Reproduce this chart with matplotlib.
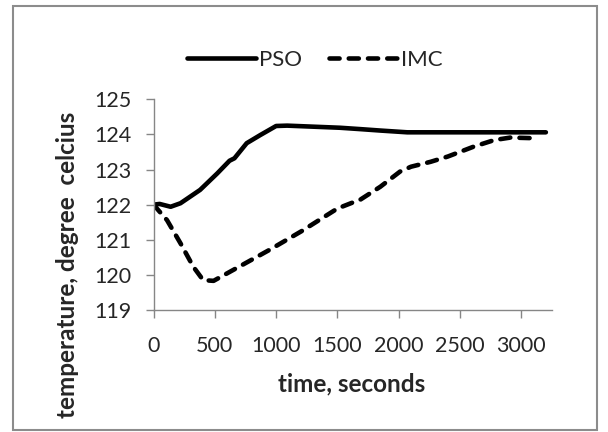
import matplotlib
matplotlib.use("Agg")
import matplotlib.pyplot as plt
from matplotlib.patches import Rectangle

# PSO and IMC temperature response (time in seconds, temperature in deg C)
pso_time = [0, 50, 140, 220, 380, 520, 620, 660, 760, 870, 1000, 1090,
            1520, 1690, 1850, 2070, 3200]
pso_temp = [122.0, 122.02, 121.94, 122.04, 122.42, 122.89, 123.25, 123.32,
            123.75, 123.98, 124.24, 124.25, 124.19, 124.15, 124.11, 124.06, 124.06]

imc_time = [0, 110, 220, 325, 405, 490, 650, 950, 1210, 1500, 1690, 1850,
            2010, 2100, 2260, 2400, 2610, 2780, 2910, 3130]
imc_temp = [122.0, 121.56, 120.9, 120.23, 119.85, 119.83, 120.14, 120.72,
            121.25, 121.89, 122.15, 122.51, 122.94, 123.08, 123.22, 123.37,
            123.65, 123.84, 123.91, 123.89]

x_ticks = [0, 500, 1000, 1500, 2000, 2500, 3000]
y_ticks = [119, 120, 121, 122, 123, 124, 125]

plt.rcParams['font.family'] = ['Lato', 'DejaVu Sans']
axis_grey = '#868686'
text_col = '#262626'

fig = plt.figure(figsize=(6.08, 4.32), dpi=100)
ax = fig.add_axes([153.5 / 608, 122 / 432, 398.5 / 608, 210.7 / 432])

ax.plot(pso_time, pso_temp, color='black', lw=3.3, solid_capstyle='round',
        solid_joinstyle='round', label='PSO')
ax.plot(imc_time, imc_temp, color='black', lw=3.3, dashes=(2.2, 2.0),
        dash_capstyle='round', label='IMC')

ax.set_xlim(0, 3250)
ax.set_ylim(119, 125)
ax.set_xticks(x_ticks)
ax.set_yticks(y_ticks)

for side in ['top', 'right']:
    ax.spines[side].set_visible(False)
for side in ['left', 'bottom']:
    ax.spines[side].set_color(axis_grey)
    ax.spines[side].set_linewidth(1.0)

ax.tick_params(axis='both', direction='out', length=6, width=1.0,
               color=axis_grey, labelsize=15.5, labelcolor=text_col)
ax.tick_params(axis='y', pad=10)
ax.tick_params(axis='x', pad=13)

ax.set_xlabel('time, seconds', fontsize=17.5, fontweight='bold',
              color=text_col, va='center')
ax.xaxis.set_label_coords(0.498, -0.35)
ax.set_ylabel('temperature, degree  celcius', fontsize=17.5, fontweight='bold',
              color=text_col, va='center')
ax.yaxis.set_label_coords(-0.217, 0.2136)

fig.legend(loc='center', bbox_to_anchor=(315 / 608, 1 - 60 / 432),
           ncol=2, frameon=False, fontsize=16, handlelength=3.1,
           handletextpad=0.15, columnspacing=1.2, labelcolor=text_col)

# grey frame around the whole chart
fig.patches.append(Rectangle((13 / 608, 2 / 432), 584 / 608, 424 / 432,
                             transform=fig.transFigure, fill=False,
                             edgecolor='#8c8c8c', lw=1.5))

fig.savefig('out.png', dpi=100)
